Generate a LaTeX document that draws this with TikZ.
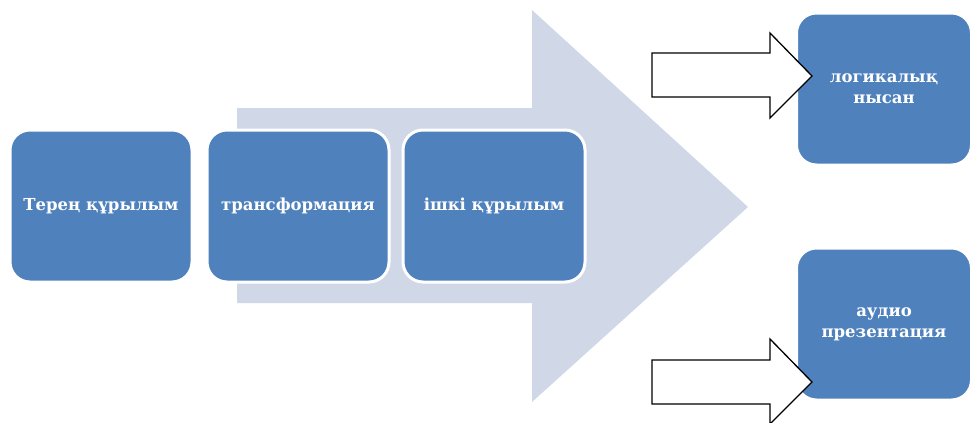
\documentclass[tikz,border=0pt]{standalone}
\usepackage{fontspec}
\setmainfont{DejaVu Serif}
\begin{document}
\begin{tikzpicture}[x=1pt,y=-1pt,
  bluebox/.style={rectangle, rounded corners=20pt, fill=boxblue, draw=white,
    line width=3pt, minimum width=182pt, minimum height=152pt, inner sep=0pt,
    text=white, font=\bfseries\fontsize{16.5}{21}\selectfont, align=center},
  sidebox/.style={bluebox, minimum width=175pt},
  outarrow/.style={fill=white, draw=black, line width=1.3pt, line join=miter}
]
\definecolor{boxblue}{HTML}{4F81BD}
\definecolor{arrowgray}{HTML}{D0D8E8}
\path[use as bounding box] (0,0) rectangle (972,423);
% big background arrow
\fill[arrowgray] (237,108) -- (532,108) -- (532,10) -- (748,207) -- (532,402) -- (532,303) -- (237,303) -- cycle;
% boxes
\node[bluebox] (b1) at (101,206) {Терең құрылым};
\node[bluebox] (b2) at (298,206) {трансформация};
\node[bluebox] (b3) at (494,206) {ішкі құрылым};
\node[sidebox] (r1) at (884,89) {логикалық\\нысан};
\node[sidebox] (r2) at (884,324) {аудио\\презентация};
% white block arrows
\draw[outarrow] (652,53) -- (770,53) -- (770,33) -- (812,76) -- (770,118) -- (770,97) -- (652,97) -- cycle;
\draw[outarrow] (652,360) -- (770,360) -- (770,339) -- (812,382) -- (770,424) -- (770,404) -- (652,404) -- cycle;
\end{tikzpicture}
\end{document}
